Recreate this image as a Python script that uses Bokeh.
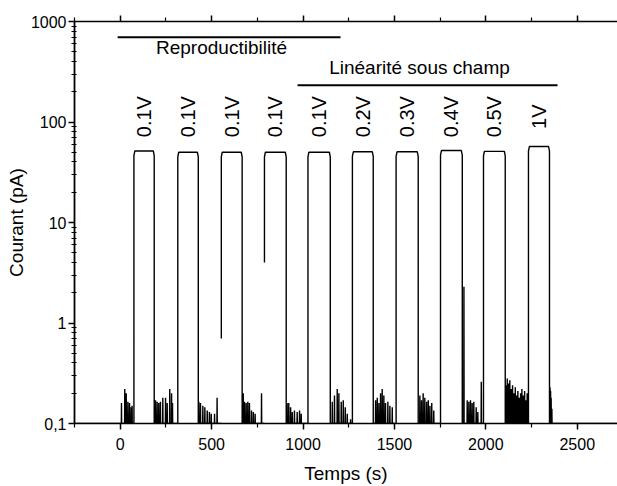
import math
from bokeh.plotting import figure
from bokeh.models import LinearAxis, FixedTicker, CustomJSTickFormatter
from bokeh.core.properties import value
from bokeh.embed import file_html
from bokeh.resources import INLINE

# ---- data ----
pulse_on = [75, 315, 553, 789, 1027, 1270, 1509, 1752, 1987, 2233]
pulse_off = [186, 427, 667, 908, 1149, 1384, 1630, 1871, 2106, 2348]
pulse_level = [51.5, 50, 50, 50, 50, 50.5, 50.5, 52, 51, 57]
rise_from = [0.1, 0.1, 0.7, 4.0, 0.1, 0.1, 0.1, 0.1, 0.1, 0.1]
volt_labels = ["0.1V", "0.1V", "0.1V", "0.1V", "0.1V", "0.2V", "0.3V", "0.4V", "0.5V", "1V"]

noise_t = [
    [7, 25, 33, 42, 51, 60, 65],
    [193, 202, 211, 220, 233, 248, 257, 271, 281, 286],
    [430, 439, 452, 463, 476, 488, 498, 516, 530],
    [673, 680, 689, 698, 707, 718, 728, 738, 773],
    [913, 922, 932, 941, 953, 968, 981, 990],
    [1160, 1172, 1187, 1196, 1209, 1220, 1231, 1242, 1260],
    [1397, 1406, 1415, 1424, 1433, 1442, 1451, 1464, 1475, 1488],
    [1639, 1648, 1657, 1666, 1676, 1685, 1694, 1704, 1715],
    [1880, 1898, 1907, 1916, 1925, 1934, 1947, 1956, 1975],
    [2113, 2117, 2120, 2124, 2128, 2131, 2135, 2139, 2142, 2146, 2150, 2153, 2157,
     2161, 2164, 2168, 2172, 2175, 2179, 2182, 2186, 2190, 2193, 2197, 2201, 2204,
     2208, 2212, 2215, 2219, 2222, 2226],
    [2351, 2354, 2357, 2361],
]
noise_v = [
    [0.16, 0.22, 0.20, 0.165, 0.16, 0.145, 0.15],
    [0.17, 0.165, 0.16, 0.165, 0.18, 0.18, 0.16, 0.22, 0.20, 0.16],
    [0.165, 0.16, 0.15, 0.145, 0.135, 0.13, 0.125, 0.125, 0.18],
    [0.20, 0.165, 0.16, 0.165, 0.16, 0.135, 0.13, 0.125, 0.20],
    [0.16, 0.16, 0.145, 0.13, 0.135, 0.13, 0.135, 0.125],
    [0.165, 0.19, 0.22, 0.20, 0.165, 0.17, 0.145, 0.125, 0.11],
    [0.17, 0.18, 0.16, 0.20, 0.22, 0.19, 0.16, 0.165, 0.15, 0.145],
    [0.19, 0.17, 0.20, 0.18, 0.165, 0.17, 0.15, 0.16, 0.135],
    [2.3, 0.17, 0.165, 0.17, 0.16, 0.165, 0.145, 0.13, 0.26],
    [0.24, 0.28, 0.15, 0.25, 0.14, 0.27, 0.15, 0.22, 0.14, 0.24, 0.15, 0.20, 0.14,
     0.23, 0.15, 0.19, 0.14, 0.21, 0.15, 0.18, 0.14, 0.20, 0.15, 0.22, 0.14, 0.19,
     0.15, 0.21, 0.14, 0.17, 0.15, 0.20],
    [0.23, 0.21, 0.18, 0.14],
]

group_labels = ["Reproductibilité", "Linéarité sous champ"]
group_start = [-14, 970]
group_end = [1205, 2392]
group_line_y = [698, 232]
group_text_x = [554, 1637]
group_text_y = [552, 349]

x_ticks = [0, 500, 1000, 1500, 2000, 2500]
x_minor = [-250, 250, 750, 1250, 1750, 2250]
y_ticks = [0.1, 1, 10, 100, 1000]

# ---- build the trace ----
T = [-250.0]
I = [0.1]

def add_spikes(ts, vs):
    for t, v in zip(ts, vs):
        T.extend([t - 1, t, t + 1])
        I.extend([0.1, v, 0.1])

for k in range(10):
    add_spikes(noise_t[k], noise_v[k])
    on, off, lv = pulse_on[k], pulse_off[k], pulse_level[k]
    T.append(on); I.append(0.1)
    if rise_from[k] > 0.1:
        T.append(on); I.append(float("nan"))
        T.append(on); I.append(rise_from[k])
    T.extend([on, on + 5, off - 5, off, off])
    I.extend([lv * 0.9, lv, lv, lv * 0.9, 0.1])
add_spikes(noise_t[10], noise_v[10])
T.append(2720); I.append(0.1)

FONT = "Liberation Sans"

p = figure(width=617, height=486, x_range=(-250, 2720), y_range=(0.1, 1000),
           y_axis_type="log", output_backend="svg", toolbar_location=None,
           min_border_left=74, min_border_right=0, min_border_top=21, min_border_bottom=62)
p.xgrid.visible = False
p.ygrid.visible = False
p.outline_line_color = None
p.background_fill_color = "white"

p.line(T, I, color="black", line_width=1.4)

p.segment(x0=group_start, y0=group_line_y, x1=group_end, y1=group_line_y,
          color="black", line_width=2)
p.text(x=group_text_x, y=group_text_y, text=group_labels, text_font=value(FONT),
       text_font_size="19px", text_align="center", text_baseline="middle", color="black")

label_x = [(a + b) / 2 for a, b in zip(pulse_on, pulse_off)]
p.text(x=label_x, y=[113] * len(label_x), text=volt_labels, angle=math.pi / 2,
       text_font=value(FONT), text_font_size="20px", text_align="center",
       text_baseline="middle", color="black")

# x axes
xa = p.xaxis[0]
xa.ticker = FixedTicker(ticks=x_ticks, minor_ticks=x_minor)
xa.axis_label = "Temps (s)"
top = LinearAxis(ticker=FixedTicker(ticks=x_ticks, minor_ticks=x_minor),
                 formatter=CustomJSTickFormatter(code="return '';"),
                 major_label_text_font_size="1px", major_label_standoff=0)
p.add_layout(top, "above")
for ax in (xa, top):
    ax.major_tick_out = 6
    ax.major_tick_in = 0
    ax.minor_tick_out = 4
    ax.minor_tick_in = 0
    ax.axis_line_width = 1.5
    ax.major_tick_line_width = 1.5
    ax.minor_tick_line_width = 1.2

ya = p.yaxis[0]
ya.ticker = FixedTicker(ticks=y_ticks,
                        minor_ticks=[m * 10 ** e for e in (-1, 0, 1, 2) for m in range(2, 10)])
ya.formatter = CustomJSTickFormatter(code="return tick < 0.5 ? '0,1' : tick.toFixed(0);")
ya.axis_label = "Courant (pA)"
ya.major_tick_out = 6
ya.major_tick_in = 0
ya.minor_tick_out = 3
ya.minor_tick_in = 2
ya.axis_line_width = 1.8
ya.major_tick_line_width = 1.5
ya.minor_tick_line_width = 1.2
ya.major_label_standoff = 2
ya.axis_label_standoff = 1

xa.major_label_standoff = 8
xa.axis_label_standoff = 10

for ax in (xa, ya):
    ax.major_label_text_font = FONT
    ax.major_label_text_font_size = "16px"
    ax.major_label_text_color = "black"
    ax.axis_label_text_font = FONT
    ax.axis_label_text_font_size = "19px"
    ax.axis_label_text_font_style = "normal"
    ax.axis_label_text_color = "black"

open("out.html", "w").write(file_html(p, INLINE))
